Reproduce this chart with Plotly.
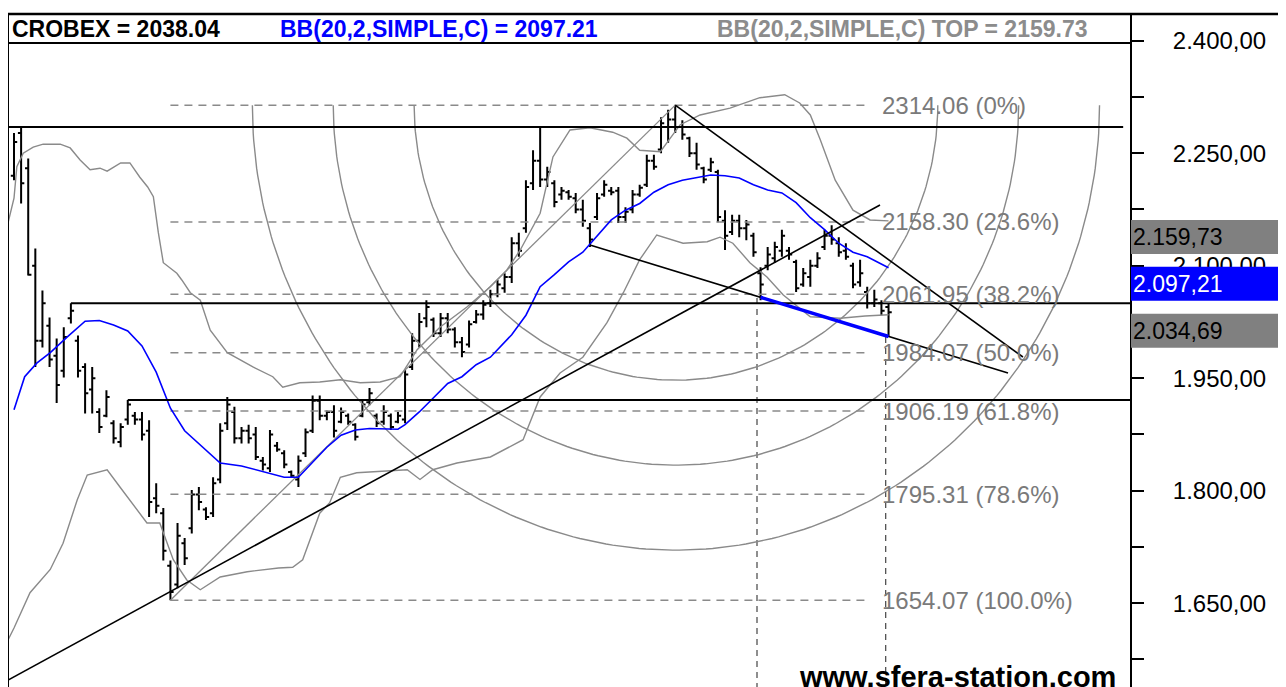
import numpy as np
import plotly.graph_objects as go

# ---------------- data ----------------
OPEN = [2220, 2277, 2230, 2100, 2000, 2020, 1980, 1960, 2030, 2000,
        1965, 1935, 1905, 1900, 1890, 1865, 1895, 1900, 1895, 1880,
        1790, 1770, 1700, 1675, 1730, 1750, 1795, 1775, 1770, 1815,
        1890, 1905, 1870, 1880, 1875, 1840, 1830, 1860, 1850, 1825,
        1815, 1850, 1880, 1920, 1900, 1905, 1892, 1900, 1888, 1900,
        1918, 1900, 1892, 1900, 1892, 1895, 1965, 2000, 2030, 2028,
        2010, 2030, 2015, 1998, 1995, 2025, 2035, 2050, 2062, 2070,
        2085, 2130, 2150, 2210, 2240, 2215, 2210, 2195, 2198, 2190,
        2175, 2150, 2165, 2195, 2200, 2200, 2165, 2175, 2195, 2208,
        2240, 2255, 2285, 2295, 2285, 2270, 2250, 2230, 2228, 2225,
        2160, 2145, 2160, 2150, 2140, 2090, 2100, 2110, 2120, 2120,
        2105, 2075, 2085, 2100, 2125, 2140, 2130, 2120, 2100, 2078,
        2065, 2050, 2050, 2045]
HIGH = [2277, 2285, 2243, 2123, 2067, 2031, 2003, 2018, 2050, 2007,
        1970, 1965, 1910, 1934, 1894, 1890, 1921, 1905, 1905, 1894,
        1810, 1777, 1707, 1757, 1737, 1801, 1805, 1778, 1818, 1890,
        1925, 1912, 1885, 1888, 1885, 1845, 1881, 1865, 1854, 1827,
        1847, 1883, 1927, 1927, 1907, 1914, 1911, 1903, 1890, 1921,
        1937, 1903, 1914, 1903, 1905, 1961, 2010, 2037, 2054, 2031,
        2037, 2037, 2018, 2005, 2027, 2041, 2054, 2068, 2081, 2090,
        2138, 2144, 2214, 2254, 2285, 2232, 2214, 2205, 2201, 2197,
        2188, 2157, 2197, 2214, 2205, 2205, 2178, 2201, 2208, 2248,
        2248, 2298, 2308, 2314.06, 2294, 2272, 2264, 2232, 2244, 2228,
        2174, 2168, 2168, 2161, 2144, 2098, 2125, 2132, 2148, 2125,
        2108, 2097, 2108, 2118, 2148, 2154, 2138, 2130, 2104, 2108,
        2072, 2068, 2054, 2050]
LOW = [2214, 2183, 2087, 1965, 1991, 1965, 1917, 1951, 2023, 1951,
       1903, 1903, 1877, 1898, 1863, 1858, 1888, 1888, 1867, 1765,
       1770, 1707, 1654.07, 1670, 1701, 1743, 1774, 1761, 1765, 1810,
       1881, 1863, 1863, 1863, 1841, 1827, 1825, 1852, 1830, 1817,
       1805, 1845, 1877, 1894, 1894, 1871, 1890, 1888, 1867, 1898,
       1914, 1885, 1888, 1881, 1890, 1890, 1961, 1991, 2018, 2005,
       2005, 2010, 1991, 1978, 1991, 2023, 2028, 2045, 2058, 2064,
       2077, 2112, 2144, 2201, 2205, 2205, 2178, 2188, 2188, 2170,
       2152, 2125, 2161, 2192, 2194, 2157, 2157, 2170, 2192, 2205,
       2228, 2250, 2264, 2277, 2268, 2245, 2228, 2210, 2225, 2158,
       2121, 2141, 2138, 2134, 2112, 2054, 2094, 2104, 2112, 2108,
       2065, 2072, 2072, 2097, 2121, 2128, 2112, 2108, 2070, 2072,
       2043, 2045, 2034, 2005]
CLOSE = [2265, 2210, 2088, 2000, 2050, 1975, 1941, 2005, 2040, 1960,
         1930, 1950, 1885, 1925, 1870, 1885, 1915, 1895, 1875, 1785,
         1780, 1720, 1665, 1740, 1710, 1795, 1785, 1765, 1810, 1880,
         1915, 1870, 1880, 1870, 1845, 1835, 1875, 1855, 1835, 1820,
         1840, 1878, 1920, 1900, 1905, 1880, 1905, 1892, 1872, 1915,
         1930, 1890, 1905, 1885, 1900, 1955, 2000, 2025, 2045, 2010,
         2030, 2015, 1998, 1985, 2022, 2035, 2048, 2062, 2075, 2085,
         2130, 2120, 2205, 2240, 2215, 2225, 2185, 2200, 2192, 2175,
         2160, 2135, 2190, 2208, 2198, 2165, 2172, 2195, 2204, 2240,
         2232, 2290, 2295, 2285, 2275, 2250, 2235, 2215, 2238, 2165,
         2140, 2160, 2150, 2155, 2118, 2075, 2115, 2125, 2140, 2115,
         2070, 2090, 2100, 2110, 2140, 2135, 2118, 2112, 2075, 2090,
         2050, 2055, 2040, 2038.04]
BARS = list(range(len(CLOSE)))

# Bollinger bands (20,2) read at sample bars
MID_X = [0, 1.5, 3.2, 5.1, 7.5, 10, 12, 14, 16, 18, 20, 22, 24, 26, 28, 29, 32, 35, 38, 40,
         42, 44, 46, 48, 50, 52, 54, 55, 57, 59, 61, 63, 65, 67, 69, 70, 72, 73, 74, 76, 78,
         80, 82, 84, 86, 88, 90, 92, 94, 96, 98, 100, 102, 104, 106, 108, 110, 112, 114,
         116, 118, 120, 122, 123]
MID_V = [1908, 1952, 1970, 1984, 2005, 2026, 2027, 2021, 2013, 1993, 1958, 1910, 1880, 1863,
         1845, 1837, 1833, 1826, 1818, 1818, 1838, 1858, 1874, 1881, 1883, 1882, 1882, 1888,
         1905, 1924, 1943, 1952, 1968, 1978, 1998, 2008, 2034, 2054, 2072, 2088, 2105, 2118,
         2139, 2161, 2174, 2183, 2198, 2208, 2214, 2218, 2221, 2220, 2217, 2208, 2201, 2197,
         2184, 2164, 2148, 2130, 2118, 2112, 2102, 2097.21]
TOP_X = [-0.84, 0, 0.4, 1.3, 2.7, 4.1, 6.5, 7.9, 9.3, 10.7, 12.1, 13.1, 15, 16.3, 17.7, 18.8,
         19.6, 20.3, 21, 22.9, 23.6, 24.8, 26.2, 27.6, 30, 33.6, 36.4, 37.8, 40.2, 43, 45.9,
         48.7, 51.5, 54.3, 56.7, 59.9, 63.7, 67, 69.3, 71.2, 74, 75.8, 78.2, 81, 84.2, 86.2,
         88, 90.9, 93.7, 96.5, 100.7, 104.9, 108.4, 110.5, 112, 113.4, 115.5, 118, 120.4, 123]
TOP_V = [2157, 2190, 2232, 2250, 2258, 2262, 2262, 2257, 2241, 2228, 2230, 2226, 2237, 2237,
         2218, 2205, 2192, 2144, 2104, 2090, 2081, 2064, 2054, 2014, 1984, 1965, 1952, 1938,
         1944, 1945, 1948, 1944, 1945, 1952, 1988, 2018, 2045, 2072, 2094, 2121, 2170, 2245,
         2281, 2284, 2278, 2270, 2254, 2252, 2288, 2301, 2310, 2324, 2328, 2317, 2301, 2268,
         2214, 2174, 2161, 2159.73]
BOT_X = [-0.84, 0, 2.25, 5.1, 6.9, 8.9, 10.3, 13.1, 14.9, 18.7, 20.5, 22.4, 24.3, 26.2, 29,
         32.8, 37.2, 39.2, 40.6, 43, 44.4, 45.9, 48.2, 55.3, 57.1, 58.9, 62.3, 67, 71.6, 74,
         76.8, 80, 83.4, 85.7, 88, 90.4, 94.1, 97.5, 99.3, 101.1, 103.5, 105.9, 108.2, 112,
         116.2, 119.7, 123]
BOT_V = [1601, 1617, 1664, 1695, 1730, 1788, 1821, 1828, 1805, 1757, 1757, 1708, 1681, 1668,
         1685, 1692, 1697, 1698, 1708, 1770, 1784, 1818, 1824, 1828, 1815, 1828, 1837, 1845,
         1868, 1925, 1957, 1978, 2024, 2064, 2108, 2141, 2130, 2132, 2138, 2130, 2104, 2085,
         2061, 2032, 2030, 2033, 2034.69]

# Fibonacci retracement (low bar 22 -> high bar 93)
FIB_VALUES = [2314.06, 2158.30, 2061.95, 1984.07, 1906.19, 1795.31, 1654.07]
FIB_PCTS = ["0%", "23.6%", "38.2%", "50.0%", "61.8%", "78.6%", "100.0%"]
FIB_START, FIB_END, FIB_LABEL_X = 22, 120.1, 121.8
# Fibonacci arcs around the high
ARC_CENTER = (93.1, 2314.06)
ARC_RATIOS = [0.382, 0.5, 0.618]
ARC_BASE_X, ARC_BASE_Y = 96.4, 960.0

# horizontal support/resistance lines: (x_start, x_end, level)
H_LINES = [(-0.84, 156.0, 2285), (8, 157.5, 2050), (16, 157.5, 1921)]
# black trend lines: (x0, y0, x1, y1)
TREND_LINES = [(-0.84, 1547.6, 121.8, 2180.9),
               (93, 2314.06, 141.9, 1978.3),
               (81, 2127.6, 139.8, 1956.9)]
GRAY_LINE = (22, 1654.07, 93, 2314.06)
BLUE_SEG_X = (105, 123)
V_LINES = [(104.5, 2057), (122.6, 2005)]

TICK_VALS = [1575, 1650, 1725, 1800, 1875, 1950, 2025, 2100, 2175, 2250, 2325, 2400]
TICK_TEXT = ["", "1.650,00", "", "1.800,00", "", "1.950,00", "", "2.100,00", "", "2.250,00", "", "2.400,00"]
LAST_BOXES = [(2159.73, "2.159,73", "#808080", "black"),
              (2097.21, "2.097,21", "#0000ff", "white"),
              (2034.69, "2.034,69", "#808080", "black")]
HEADER = [("CROBEX = 2038.04", "black", 10),
          ("BB(20,2,SIMPLE,C) = 2097.21", "#0000ff", 278),
          ("BB(20,2,SIMPLE,C) TOP = 2159.73", "#8c8c8c", 715)]

# ---------------- figure ----------------
OFF = 8                      # page body margin
W, H = 1278, 679
ML, MR, MT, MB = 0, 156, 6, 0
PW, PH = W - ML - MR, H - MT - MB
XR = [-0.844, 156.96]
YR = [1538.3, 2435.6]
FONT = "Liberation Sans, Arial, sans-serif"
GRAY = "#8a8a8a"


def pxp(xp):   # page pixel x -> paper
    return (xp - OFF - ML) / PW


def pyp(yp):   # page pixel y -> paper
    return 1 - (yp - OFF - MT) / PH


fig = go.Figure()


def line_tr(x, y, color, width, dash=None):
    fig.add_trace(go.Scatter(x=x, y=y, mode="lines", hoverinfo="skip", showlegend=False,
                             line=dict(color=color, width=width, dash=dash)))


for v in FIB_VALUES:
    line_tr([FIB_START, FIB_END], [v, v], GRAY, 1.5, "8px,6px")
for xv, yv in V_LINES:
    line_tr([xv, xv], [yv, YR[0]], "#444444", 1.2, "6px,5px")
t = np.linspace(0, np.pi, 200)
for r in ARC_RATIOS:
    ax = ARC_CENTER[0] - ARC_BASE_X * r * np.cos(t)
    ay = ARC_CENTER[1] - ARC_BASE_Y * r * np.sin(t)
    line_tr(ax, ay, GRAY, 1.4)
line_tr([GRAY_LINE[0], GRAY_LINE[2]], [GRAY_LINE[1], GRAY_LINE[3]], GRAY, 1.3)
line_tr(TOP_X, TOP_V, GRAY, 1.4)
line_tr(BOT_X, BOT_V, GRAY, 1.4)
line_tr(MID_X, MID_V, "#0000ff", 1.6)
for x0, x1, v in H_LINES:
    line_tr([x0, x1], [v, v], "black", 2)
for x0, y0, x1, y1 in TREND_LINES:
    line_tr([x0, x1], [y0, y1], "black", 1.6)

fig.add_trace(go.Ohlc(x=BARS, open=OPEN, high=HIGH, low=LOW, close=CLOSE,
                      increasing=dict(line=dict(color="black", width=2)),
                      decreasing=dict(line=dict(color="black", width=2)),
                      tickwidth=0.45, hoverinfo="skip", showlegend=False))

x0, y0, x1, y1 = TREND_LINES[2]
slope = (y1 - y0) / (x1 - x0)
bx = list(BLUE_SEG_X)
by = [y0 + slope * (b - x0) for b in bx]
line_tr(bx, by, "#0000ff", 3.5)

annotations = []
for v, p in zip(FIB_VALUES, FIB_PCTS):
    annotations.append(dict(x=FIB_LABEL_X, y=v, xref="x", yref="y", text=f"{v:.2f} ({p})",
                            showarrow=False, xanchor="left", yanchor="middle",
                            font=dict(family=FONT, size=24, color="#7a7a7a")))

shapes = []
px_per_val = PH / (YR[1] - YR[0])
box_h = 33 / px_per_val
x_right_paper = (W - ML) / PW
for v, txt, bg, fg in LAST_BOXES:
    shapes.append(dict(type="rect", xref="paper", yref="y", x0=pxp(1131), x1=x_right_paper,
                       y0=v - box_h, y1=v + 1 / px_per_val, fillcolor=bg, line=dict(width=0),
                       layer="above"))
    annotations.append(dict(x=pxp(1131), y=v - box_h / 2, xref="paper", yref="y", text=txt,
                            showarrow=False, xanchor="left", yanchor="middle",
                            font=dict(family=FONT, size=23, color=fg)))

for txt, col, xp in HEADER:
    annotations.append(dict(x=pxp(xp), y=pyp(29), xref="paper", yref="paper", text=f"<b>{txt}</b>",
                            showarrow=False, xanchor="left", yanchor="middle",
                            font=dict(family=FONT, size=23, color=col)))
annotations.append(dict(x=pxp(797), y=pyp(695), xref="paper", yref="paper",
                        text="<b>www.sfera-station.com</b>", showarrow=False,
                        xanchor="left", yanchor="bottom",
                        font=dict(family=FONT, size=29, color="black")))

shapes.append(dict(type="line", xref="paper", yref="paper", x0=0, x1=x_right_paper, y0=1, y1=1,
                   line=dict(color="black", width=2.5), layer="above"))
shapes.append(dict(type="line", xref="paper", yref="paper", x0=0, x1=0, y0=0, y1=1,
                   line=dict(color="black", width=2), layer="above"))
shapes.append(dict(type="line", xref="paper", yref="paper", x0=0, x1=1,
                   y0=pyp(43), y1=pyp(43),
                   line=dict(color="black", width=2), layer="above"))

fig.update_layout(
    width=W, height=H, margin=dict(l=ML, r=MR, t=MT, b=MB, pad=0),
    paper_bgcolor="white", plot_bgcolor="white", showlegend=False,
    annotations=annotations, shapes=shapes, hovermode=False,
    xaxis=dict(range=XR, visible=False, rangeslider=dict(visible=False), fixedrange=True),
    yaxis=dict(range=YR, side="right", tickvals=TICK_VALS, ticktext=TICK_TEXT,
               ticks="outside", ticklen=12, tickwidth=2, tickcolor="black",
               showline=True, linecolor="black", linewidth=2, showgrid=False, zeroline=False,
               ticklabelstandoff=24, tickfont=dict(family=FONT, size=24, color="black"),
               fixedrange=True),
)

fig.write_html("out.html")
